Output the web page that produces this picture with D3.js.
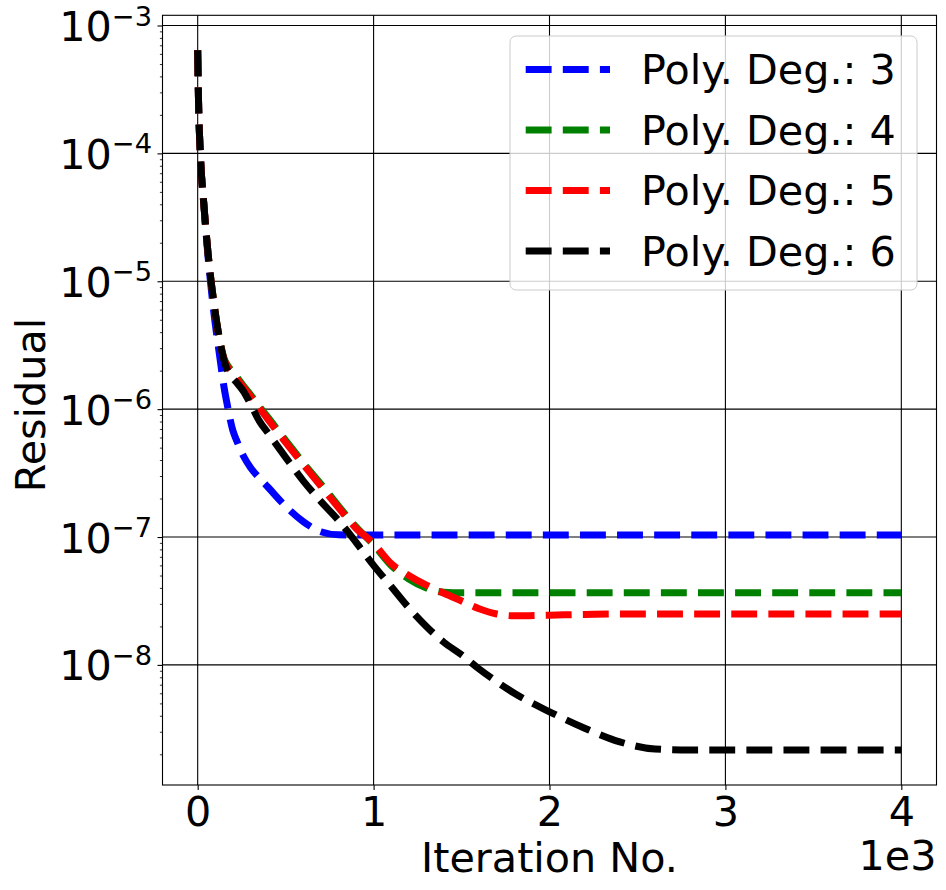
<!DOCTYPE html>
<html>
<head>
<meta charset="utf-8">
<script src="https://cdn.jsdelivr.net/npm/d3@7"></script>
<style>
  body { margin: 0; background: #fff; }
  text { font-family: "DejaVu Sans", sans-serif; fill: #000; }
</style>
</head>
<body>
<div id="chart"></div>
<script>
var iterations = [0, 5, 15, 35, 60, 90, 125, 150, 170, 200, 220, 260, 300, 350, 400, 500, 600, 700, 800, 900,
  1000, 1100, 1200, 1300, 1400, 1500, 1600, 1700, 1800, 2000, 2200, 2400, 2600, 2800, 3000, 3500, 4000];

var residualDeg3 = [6.4e-4, 2.5e-4, 1.0e-4, 4.0e-5, 1.5e-5, 6.0e-6, 2.6e-6, 1.48e-6, 1.05e-6, 6.8e-7, 5.75e-7, 4.3e-7,
  3.5e-7, 2.9e-7, 2.45e-7, 1.74e-7, 1.32e-7, 1.1e-7, 1.04e-7, 1.035e-7,
  1.035e-7, 1.035e-7, 1.035e-7, 1.035e-7, 1.035e-7, 1.035e-7, 1.035e-7, 1.035e-7, 1.035e-7, 1.035e-7,
  1.035e-7, 1.035e-7, 1.035e-7, 1.035e-7, 1.035e-7, 1.035e-7, 1.035e-7];

var residualDeg4 = [6.4e-4, 2.5e-4, 1.0e-4, 4.0e-5, 1.6e-5, 7.2e-6, 3.5e-6, 2.5e-6, 2.2e-6, 1.95e-6, 1.8e-6, 1.52e-6,
  1.3e-6, 1.05e-6, 8.6e-7, 5.7e-7, 3.8e-7, 2.6e-7, 1.75e-7, 1.2e-7,
  8.7e-8, 6.0e-8, 4.7e-8, 4.0e-8, 3.7e-8, 3.66e-8, 3.66e-8, 3.66e-8, 3.66e-8, 3.66e-8,
  3.66e-8, 3.66e-8, 3.66e-8, 3.66e-8, 3.66e-8, 3.66e-8, 3.66e-8];

var residualDeg5 = [6.4e-4, 2.5e-4, 1.0e-4, 4.0e-5, 1.6e-5, 7.1e-6, 3.45e-6, 2.45e-6, 2.14e-6, 1.9e-6, 1.74e-6, 1.48e-6,
  1.26e-6, 1.02e-6, 8.3e-7, 5.5e-7, 3.7e-7, 2.5e-7, 1.7e-7, 1.17e-7,
  8.9e-8, 6.2e-8, 5.0e-8, 4.2e-8, 3.63e-8, 3.16e-8, 2.75e-8, 2.5e-8, 2.42e-8, 2.45e-8,
  2.48e-8, 2.5e-8, 2.5e-8, 2.5e-8, 2.5e-8, 2.5e-8, 2.5e-8];

var residualDeg6 = [6.4e-4, 2.5e-4, 1.0e-4, 4.0e-5, 1.6e-5, 7.1e-6, 3.47e-6, 2.4e-6, 2.0e-6, 1.74e-6, 1.62e-6, 1.38e-6,
  1.10e-6, 8.1e-7, 6.5e-7, 4.2e-7, 2.75e-7, 1.9e-7, 1.35e-7, 9.1e-8,
  6.0e-8, 4.1e-8, 2.8e-8, 2.0e-8, 1.5e-8, 1.2e-8, 9.3e-9, 7.4e-9, 6.0e-9, 4.3e-9,
  3.2e-9, 2.5e-9, 2.2e-9, 2.16e-9, 2.16e-9, 2.16e-9, 2.16e-9];

var seriesNames = ["Poly. Deg.: 3", "Poly. Deg.: 4", "Poly. Deg.: 5", "Poly. Deg.: 6"];
var seriesColors = ["#0000ff", "#008000", "#ff0000", "#000000"];

var xTicks = [0, 1000, 2000, 3000, 4000];
var xTickLabels = ["0", "1", "2", "3", "4"];
var yTicks = [1e-3, 1e-4, 1e-5, 1e-6, 1e-7, 1e-8];
var yTickExponents = ["\u22123", "\u22124", "\u22125", "\u22126", "\u22127", "\u22128"];

var residuals = [residualDeg3, residualDeg4, residualDeg5, residualDeg6];

var FONT = 41.3, LW = 7, DASH = "25.9,11.2";

var margin = {top: 15.3, right: 9.5, bottom: 105, left: 162.5},
    width = 946 - margin.left - margin.right,
    height = 890 - margin.top - margin.bottom;

var root = d3.select("#chart").append("svg")
    .attr("width", 946)
    .attr("height", 890);

var svg = root.append("g")
    .attr("transform", "translate(" + margin.left + "," + margin.top + ")");

// 5% margins like matplotlib (log space for y)
var xExt = d3.extent(iterations), xPad = (xExt[1] - xExt[0]) * 0.05;
var x = d3.scaleLinear()
    .domain([xExt[0] - xPad, xExt[1] + xPad])
    .range([0, width]);

var all = d3.merge(residuals);
var lo = Math.log10(d3.min(all)), hi = Math.log10(d3.max(all)), pad = (hi - lo) * 0.05;
var y = d3.scaleLog()
    .domain([Math.pow(10, lo - pad), Math.pow(10, hi + pad)])
    .range([height, 0]);

// grid
svg.selectAll(".vgrid")
    .data(xTicks)
  .enter().append("line")
    .attr("x1", function(d){ return x(d); })
    .attr("x2", function(d){ return x(d); })
    .attr("y1", 0).attr("y2", height)
    .attr("stroke", "#000").attr("stroke-width", 1.1);

svg.selectAll(".hgrid")
    .data(yTicks)
  .enter().append("line")
    .attr("x1", 0).attr("x2", width)
    .attr("y1", function(d){ return y(d); })
    .attr("y2", function(d){ return y(d); })
    .attr("stroke", "#000").attr("stroke-width", 1.1);

// curves
svg.append("clipPath").attr("id", "clip")
  .append("rect").attr("width", width).attr("height", height);

var line = d3.line()
    .x(function(d){ return x(d[0]); })
    .y(function(d){ return y(d[1]); })
    .curve(d3.curveMonotoneX);

residuals.forEach(function(vals, i){
  svg.append("path")
      .datum(d3.zip(iterations, vals))
      .attr("clip-path", "url(#clip)")
      .attr("fill", "none")
      .attr("stroke", seriesColors[i])
      .attr("stroke-width", LW)
      .attr("stroke-dasharray", DASH)
      .attr("d", line);
});

// axes
var xAxis = svg.append("g")
    .attr("transform", "translate(0," + height + ")")
    .call(d3.axisBottom(x).tickValues(xTicks).tickSize(5).tickPadding(6.5)
      .tickFormat(function(d, i){ return xTickLabels[i]; }));

var minorTicks = y.ticks().filter(function(d){
  var l = Math.log10(d);
  return Math.abs(l - Math.round(l)) > 1e-6;
});
var yMinor = svg.append("g")
    .call(d3.axisLeft(y).tickValues(minorTicks).tickSize(2.6).tickFormat(""));

var yAxis = svg.append("g")
    .call(d3.axisLeft(y).tickValues(yTicks).tickSize(5).tickFormat(""));

[xAxis, yAxis, yMinor].forEach(function(a){
  a.select(".domain").remove();
  a.selectAll("line").attr("stroke", "#000").attr("stroke-width", 1.1);
});
yMinor.selectAll("line").attr("stroke-width", 0.8);

xAxis.selectAll("text")
    .attr("font-size", FONT)
    .attr("font-family", "DejaVu Sans")
    .attr("fill", "#000");

// y labels as 10^n
yTicks.forEach(function(t, i){
  var lab = svg.append("text")
      .attr("x", -10.5)
      .attr("y", y(t) + 15.5)
      .attr("text-anchor", "end")
      .attr("font-size", FONT);
  lab.append("tspan").text("10");
  lab.append("tspan")
      .attr("dy", -15.5)
      .attr("font-size", FONT * 0.66)
      .text(yTickExponents[i]);
});

// spines
svg.append("rect")
    .attr("width", width).attr("height", height)
    .attr("fill", "none")
    .attr("stroke", "#000").attr("stroke-width", 1.1);

// axis labels
root.append("text")
    .attr("x", margin.left + width / 2)
    .attr("y", 871.5)
    .attr("text-anchor", "middle")
    .attr("font-size", FONT)
    .text("Iteration No.");

root.append("text")
    .attr("x", margin.left + width)
    .attr("y", 870)
    .attr("text-anchor", "end")
    .attr("font-size", FONT)
    .text("1e3");

root.append("text")
    .attr("transform", "translate(45,405) rotate(-90)")
    .attr("text-anchor", "middle")
    .attr("font-size", FONT)
    .text("Residual");

// legend
var legend = root.append("g");
legend.append("rect")
    .attr("x", 510).attr("y", 36)
    .attr("width", 407).attr("height", 254)
    .attr("rx", 6).attr("ry", 6)
    .attr("fill", "#fff").attr("fill-opacity", 0.8)
    .attr("stroke", "#cccccc").attr("stroke-width", 1);

var rows = legend.selectAll(".row")
    .data(seriesNames)
  .enter().append("g")
    .attr("transform", function(d, i){ return "translate(0," + (69.5 + i * 60.5) + ")"; });

rows.append("line")
    .attr("x1", 525.7).attr("x2", 610)
    .attr("stroke", function(d, i){ return seriesColors[i]; })
    .attr("stroke-width", LW)
    .attr("stroke-dasharray", DASH);

rows.append("text")
    .attr("x", 641)
    .attr("y", 14.5)
    .attr("font-size", FONT)
    .text(function(d){ return d; });
</script>
</body>
</html>
